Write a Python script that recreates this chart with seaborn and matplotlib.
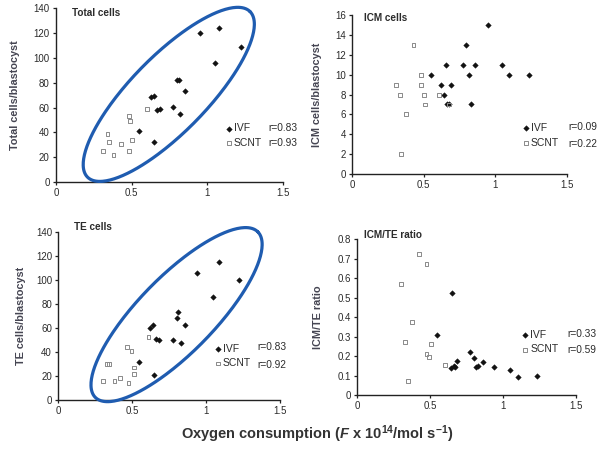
import numpy as np
import pandas as pd
import matplotlib
matplotlib.use("Agg")
import matplotlib.pyplot as plt
import seaborn as sns

# ---------------- data ----------------
total_ivf_x = [0.95, 1.08, 1.22, 1.05, 0.80, 0.815, 0.85, 0.63, 0.65, 0.67, 0.685, 0.77, 0.82, 0.55, 0.65]
total_ivf_y = [120, 124, 109, 96, 82, 82, 73.5, 68.5, 69.5, 58, 59, 60.5, 54.5, 41.5, 32]
total_scnt_x = [0.60, 0.48, 0.49, 0.34, 0.50, 0.35, 0.43, 0.31, 0.38, 0.48]
total_scnt_y = [59, 53.5, 49, 38.5, 34, 32, 31, 25, 21.5, 25]

icm_ivf_x = [0.95, 0.80, 0.655, 0.775, 0.86, 1.05, 0.555, 0.82, 1.10, 1.24, 0.625, 0.695, 0.645, 0.665, 0.68, 0.835]
icm_ivf_y = [15, 13, 11, 11, 11, 11, 10, 10, 10, 10, 9, 9, 8, 7, 7, 7]
icm_scnt_x = [0.43, 0.48, 0.48, 0.305, 0.335, 0.505, 0.61, 0.51, 0.675, 0.38, 0.345]
icm_scnt_y = [13, 10, 9, 9, 8, 8, 8, 7, 7, 6, 2]

te_ivf_x = [1.09, 0.94, 1.225, 1.045, 0.81, 0.80, 0.855, 0.64, 0.62, 0.66, 0.68, 0.775, 0.83, 0.545, 0.645]
te_ivf_y = [114.5, 106, 100, 85.5, 73, 68.5, 62.5, 62.5, 59.5, 50.5, 50, 49.5, 47.5, 31.5, 20.5]
te_scnt_x = [0.61, 0.465, 0.495, 0.33, 0.345, 0.51, 0.51, 0.42, 0.38, 0.305, 0.475]
te_scnt_y = [52, 44, 41, 30, 30, 27, 21.5, 18.5, 16, 16, 14.5]

ratio_ivf_x = [0.65, 0.55, 0.775, 0.80, 0.815, 0.825, 0.865, 0.685, 0.66, 0.645, 0.67, 0.94, 1.05, 1.10, 1.235]
ratio_ivf_y = [0.525, 0.31, 0.22, 0.19, 0.145, 0.15, 0.17, 0.175, 0.15, 0.14, 0.145, 0.145, 0.13, 0.09, 0.10]
ratio_scnt_x = [0.425, 0.475, 0.30, 0.375, 0.33, 0.505, 0.475, 0.49, 0.60, 0.345]
ratio_scnt_y = [0.725, 0.675, 0.57, 0.375, 0.27, 0.26, 0.21, 0.195, 0.155, 0.07]

groups = ["IVF", "SCNT"]
titles = ["Total cells", "ICM cells", "TE cells", "ICM/TE ratio"]
ylabels = ["Total cells/blastocyst", "ICM cells/blastocyst", "TE cells/blastocyst", "ICM/TE ratio"]
r_ivf = ["r=0.83", "r=0.09", "r=0.83", "r=0.33"]
r_scnt = ["r=0.93", "r=0.22", "r=0.92", "r=0.59"]
y_max = [140, 16, 140, 0.8]
y_step = [20, 2, 20, 0.1]
x_ticks = [0, 0.5, 1, 1.5]
x_ticklabels = ["0", "0.5", "1", "1.5"]
xlabel = r"Oxygen consumption ($\mathit{F}$ x 10$^{14}$/mol s$^{-1}$)"

series = [
    (total_ivf_x, total_ivf_y, total_scnt_x, total_scnt_y),
    (icm_ivf_x, icm_ivf_y, icm_scnt_x, icm_scnt_y),
    (te_ivf_x, te_ivf_y, te_scnt_x, te_scnt_y),
    (ratio_ivf_x, ratio_ivf_y, ratio_scnt_x, ratio_scnt_y),
]

# ---------------- style ----------------
sns.set_theme(style="white")
plt.rcParams["font.family"] = ["Liberation Sans", "DejaVu Sans"]
plt.rcParams["mathtext.fontset"] = "custom"
plt.rcParams["mathtext.rm"] = "Liberation Sans:bold"
plt.rcParams["mathtext.it"] = "Liberation Sans:italic:bold"
plt.rcParams["mathtext.bf"] = "Liberation Sans:bold"

DPI = 100
fig = plt.figure(figsize=(6.03, 4.54), dpi=DPI)
fig.patch.set_facecolor("white")

# axes rectangles in figure fractions
rects = [
    [0.0929, 0.599, 0.3765, 0.383],
    [0.5837, 0.6167, 0.356, 0.350],
    [0.0967, 0.119, 0.3677, 0.3707],
    [0.5925, 0.130, 0.3627, 0.343],
]
title_pos = [(0.07, 0.975), (0.056, 0.985), (0.071, 1.03), (0.032, 1.025)]
ylabel_x = [15, 317, 21, 318]   # px from left edge of figure
legend_anchor = [(0.745, 0.267), (0.793, 0.243), (0.703, 0.262), (0.75, 0.34)]
r_x = [0.934, 1.01, 0.896, 0.959]
row_y = [(0.31, 0.224), (0.296, 0.189), (0.315, 0.208), (0.392, 0.289)]

# ellipses: center (data), semi-major / semi-minor (px), angle (deg)
ellipses = {0: ((0.745, 70.6), 116, 38, 45.6), 2: ((0.80, 71.0), 116, 38, 45.6)}

text_col = "#2b2b2b"
label_col = "#454552"

for i in range(4):
    ax = fig.add_axes(rects[i])
    ix, iy, sx, sy = series[i]
    df_ivf = pd.DataFrame({"x": ix, "y": iy})
    df_scnt = pd.DataFrame({"x": sx, "y": sy})
    sns.scatterplot(data=df_ivf, x="x", y="y", ax=ax, marker="D", s=8,
                    color="#111111", edgecolor="#111111", linewidth=0.3,
                    label=groups[0], zorder=3, clip_on=False)
    sns.scatterplot(data=df_scnt, x="x", y="y", ax=ax, marker="s", s=8,
                    facecolor="none", edgecolor="#8a8a8a", linewidth=0.7,
                    label=groups[1], zorder=3, clip_on=False)
    ax.set_xlim(0, 1.5)
    ax.set_ylim(0, y_max[i])
    ax.set_xticks(x_ticks)
    ax.set_xticklabels(x_ticklabels)
    yt = np.round(np.arange(0, y_max[i] + y_step[i] / 2, y_step[i]), 3)
    ax.set_yticks(yt)
    ax.set_yticklabels([("%g" % v) for v in yt])
    for s in ["top", "right"]:
        ax.spines[s].set_visible(False)
    for s in ["left", "bottom"]:
        ax.spines[s].set_color("#222222")
        ax.spines[s].set_linewidth(1.0)
    ax.tick_params(axis="both", direction="out", length=2.5, width=0.9,
                   color="#222222", labelsize=7, labelcolor=text_col, pad=2,
                   bottom=True, left=True)
    ax.set_xlabel("")
    ax.set_ylabel("")
    ax.text(title_pos[i][0], title_pos[i][1], titles[i], transform=ax.transAxes,
            fontsize=7.2, fontweight="bold", color=text_col, va="center", ha="left")
    # y label
    bb = ax.get_position()
    fig.text(ylabel_x[i] / 603, bb.y0 + bb.height / 2, ylabels[i], rotation=90,
             ha="center", va="center", fontsize=7.8, fontweight="bold", color=label_col)
    # legend
    h = ax.collections[:2]
    ax.legend(handles=h, labels=groups, loc="center left",
              bbox_to_anchor=legend_anchor[i], frameon=False, fontsize=7.5,
              handletextpad=0.15, borderpad=0, borderaxespad=0, labelspacing=0.45,
              handlelength=0.7, markerscale=1.0, labelcolor=text_col)
    ax.text(r_x[i], row_y[i][0], r_ivf[i], transform=ax.transAxes, fontsize=7.3,
            color=text_col, va="center", ha="left")
    ax.text(r_x[i], row_y[i][1], r_scnt[i], transform=ax.transAxes, fontsize=7.3,
            color=text_col, va="center", ha="left")
    # ellipse
    if i in ellipses:
        (cx, cy), a, b, ang = ellipses[i]
        th = np.deg2rad(ang)
        t = np.linspace(0, 2 * np.pi, 300)
        sc = DPI / 100.0
        dx = (a * np.cos(t) * np.cos(th) - b * np.sin(t) * np.sin(th)) * sc
        dy = (a * np.cos(t) * np.sin(th) + b * np.sin(t) * np.cos(th)) * sc
        c = ax.transData.transform((cx, cy))
        pts = np.column_stack([c[0] + dx, c[1] + dy])
        dat = ax.transData.inverted().transform(pts)
        ax.plot(dat[:, 0], dat[:, 1], color="#1f5cb0", lw=2.3, clip_on=False, zorder=4)

fig.text(317 / 603, 1 - 434 / 454, xlabel, ha="center", va="center",
         fontsize=10.5, fontweight="bold", color="#333333")

fig.savefig("out.png", dpi=DPI, facecolor="white")
